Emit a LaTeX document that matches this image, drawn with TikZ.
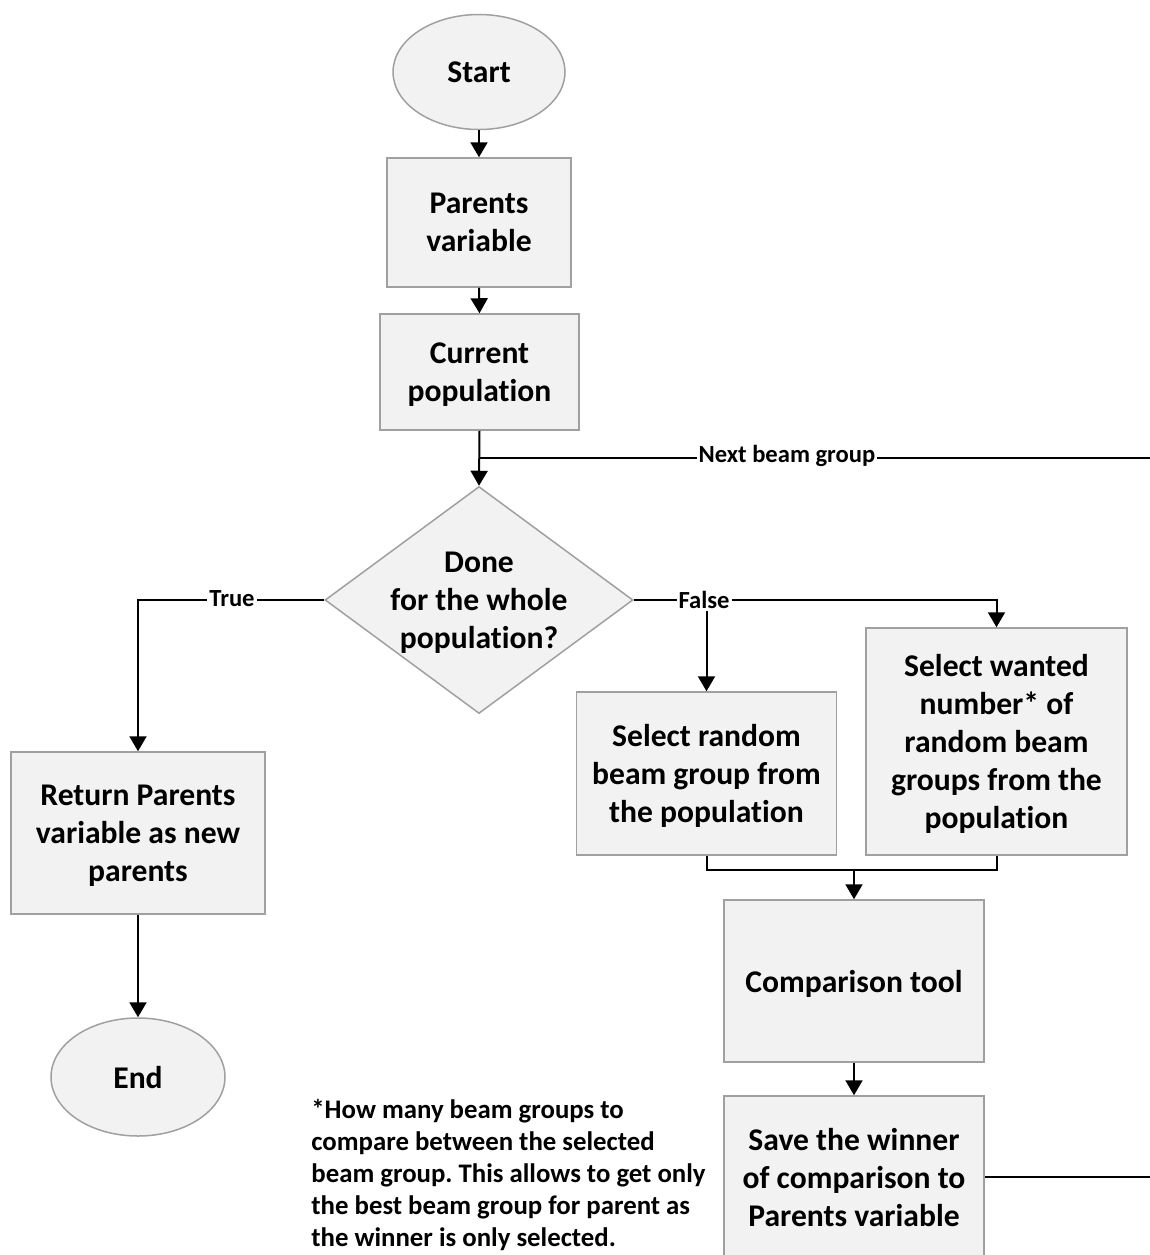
\documentclass[tikz,border=0pt]{standalone}
\usepackage{fontspec}
\setmainfont{Carlito}[Ligatures=NoCommon]
\frenchspacing
\usetikzlibrary{shapes.geometric,arrows.meta}

\definecolor{boxfill}{HTML}{F2F2F2}
\definecolor{boxline}{HTML}{A0A0A0}

\tikzset{
  every node/.style={font=\fontsize{15.8}{19}\selectfont\bfseries, align=center},
  % ignore descenders of the last line so text sits centred in its shape
  flatbase/.style={text depth=0pt},
  procbox/.style={rectangle, draw=boxline, fill=boxfill, line width=0.75pt, inner sep=0pt, flatbase},
  termin/.style={ellipse, draw=boxline, fill=boxfill, line width=0.75pt, inner sep=0pt, flatbase},
  decide/.style={diamond, draw=boxline, fill=boxfill, line width=0.75pt, inner sep=0pt},
  conn/.style={line width=1pt, black},
  arr/.style={conn, -{Triangle[width=8.5pt,length=7.5pt]}},
  edgelabel/.style={fill=white, inner sep=1pt, font=\fontsize{12.3}{14}\selectfont\bfseries},
}

\begin{document}
\begin{tikzpicture}[x=0.5pt, y=-0.5pt]
  \useasboundingbox (0,0) rectangle (1150,1255);
  \clip (0,0) rectangle (1150,1255);

  % terminals
  \node[termin, minimum width=86pt, minimum height=57.5pt] (start) at (479,72) {Start};
  \node[termin, minimum width=87pt, minimum height=59pt] (end) at (138,1077) {End};

  % process boxes
  \node[procbox, minimum width=92pt, minimum height=64.5pt] (parents) at (479,222.5) {Parents\\variable};
  \node[procbox, minimum width=99.5pt, minimum height=58pt] (current) at (479.5,372) {Current\\population};
  \node[procbox, minimum width=127pt, minimum height=81pt] (ret) at (138,833) {Return Parents\\variable as new\\parents};
  \node[procbox, minimum width=130pt, minimum height=81.5pt] (rand) at (706.5,773.5) {Select random\\beam group from\\the population};
  \node[procbox, minimum width=130.5pt, minimum height=113.5pt] (wanted) at (996.5,741.5) {Select wanted\\number* of\\random beam\\groups from the\\population};
  \node[procbox, minimum width=130pt, minimum height=81pt] (comp) at (854,981) {Comparison tool};
  \node[procbox, minimum width=130pt, minimum height=81pt] (save) at (854,1177) {Save the winner\\of comparison to\\Parents variable};

  % decision
  \node[decide, minimum width=154pt, minimum height=113.5pt] (dec) at (479,600) {};
  \node[flatbase] (dectext) at (dec) {Done\\for the whole\\population?};

  % helper points
  \coordinate (join) at (479,458);
  \coordinate (loopx) at (1160,458);
  \coordinate (tcorner) at (ret.north |- dec.west);
  \coordinate (fcorner) at (wanted.north |- dec.east);
  \coordinate (fsplit) at (rand.north |- dec.east);
  \coordinate (mmid) at (854,870);
  \coordinate (mleft) at (rand.south |- mmid);
  \coordinate (mright) at (wanted.south |- mmid);

  % main chain
  \draw[arr] (start.south) -- (parents.north);
  \draw[arr] (parents.south) -- (current.north);
  \draw[arr] (current.south) -- (dec.north);

  % loop back for the next beam group
  \draw[conn] (save.east) -| (loopx) -- (join);

  % True branch
  \draw[arr] (dec.west) -- (tcorner) -- (ret.north);
  \draw[arr] (ret.south) -- (end.north);

  % False branch
  \draw[arr] (dec.east) -- (fcorner) -- (wanted.north);
  \draw[arr] (fsplit) -- (rand.north);

  % merge into the comparison tool
  \draw[conn] (rand.south) -- (mleft) -- (mright) -- (wanted.south);
  \draw[arr] (mmid) -- (comp.north);
  \draw[arr] (comp.south) -- (save.north);

  % connector labels
  \node[edgelabel] (lnext) at (787,456) {Next beam group};
  \node[edgelabel] (ltrue) at (232,599) {True};
  \node[edgelabel] (lfalse) at (704,600) {False};

  % footnote
  \node[anchor=north west, inner sep=0pt, align=left, font=\fontsize{13.4}{16}\selectfont\bfseries] (note) at (311,1099)
    {*How many beam groups to\\compare between the selected\\beam group. This allows to get only\\the best beam group for parent as\\the winner is only selected.};
\end{tikzpicture}
\end{document}
